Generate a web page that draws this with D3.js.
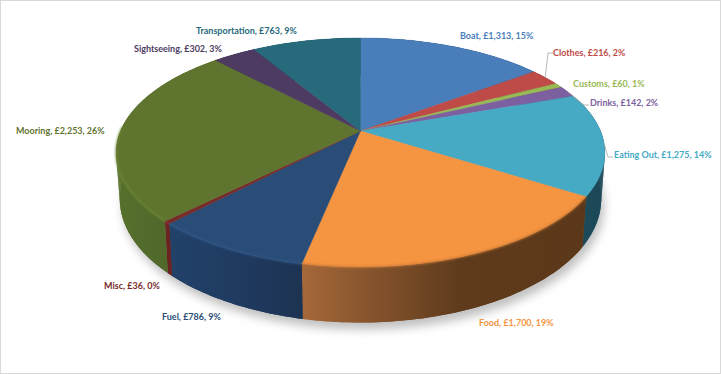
<!DOCTYPE html>
<html>
<head>
<meta charset="utf-8">
<script src="https://cdn.jsdelivr.net/npm/d3@7"></script>
<style>
html, body { margin: 0; padding: 0; background: #fff; }
svg { display: block; }
text { font-family: Lato, "Open Sans", sans-serif; font-weight: 700; font-size: 10px; }
</style>
</head>
<body>
<div id="chart"></div>
<script>
const categories = ['Boat', 'Clothes', 'Customs', 'Drinks', 'Eating Out', 'Food', 'Fuel', 'Misc', 'Mooring', 'Sightseeing', 'Transportation'];
const amounts = [1313, 216, 60, 142, 1275, 1700, 786, 36, 2253, 302, 763];
const percents = [15, 2, 1, 2, 14, 19, 9, 0, 26, 3, 9];
const topColors = ['#4a7ebb', '#be4b48', '#98b954', '#7d60a0', '#46aac5', '#f59441', '#2a4d77', '#772c2a', '#5f752f', '#4d3b62', '#276a7c'];
const wallLeft = ['#2f4f75', '#7a302e', '#5f7434', '#4d3a62', '#1c4a59', '#a5683a', '#22426a', '#7a2a28', '#56702c', '#3a2c4c', '#1c4a59'];
const wallMid = ['#2f4f75', '#7a302e', '#5f7434', '#4d3a62', '#1c4a59', '#5f3b1c', '#1f3a60', '#6a2321', '#50672a', '#3a2c4c', '#1c4a59'];
const wallRight = ['#2f4f75', '#7a302e', '#5f7434', '#4d3a62', '#1b4656', '#5c381a', '#1d3352', '#6a2321', '#4d6226', '#3a2c4c', '#1c4a59'];

// label anchor (left, baseline) for every slice, picked by eye
const labelX = [460, 553, 573, 590, 614, 479, 162, 104, 16, 134, 196];
const labelY = [39, 56, 87, 106, 158, 326, 320, 289, 134, 52, 34];
// slices with a leader line: index, end x, end y (label side)
const leaders = [[1, 553, 53], [3, 589, 105], [4, 613, 157]];

const width = 721, height = 374;
const skew = 0.188;
const depth = 45;
const bottomShrink = 0.985;

const xScale = d3.scaleLinear().domain([-1, 1]).range([360.5 - 240, 360.5 + 240]);
const yScale = d3.scaleLinear().domain([-1, 1]).range([131 + 110.5, 131 - 110.5]);

// perspective view of the pie disc, angle is clockwise from 12 o'clock
function project(angle, drop, shrink) {
    let w = 1 + skew * Math.cos(angle);
    let x = Math.sin(angle) * (shrink || 1) / w;
    let y = Math.cos(angle) / w;
    return [xScale(x), yScale(y) + (drop ? depth / w : 0)];
}

function sampleAngles(a0, a1) {
    let n = Math.max(2, Math.ceil((a1 - a0) / 0.02));
    return d3.range(n + 1).map(i => a0 + (a1 - a0) * i / n);
}

const line = d3.line();
const pie = d3.pie().sort(null).value(d => d);
const slices = pie(amounts);

const svg = d3.select('#chart').append('svg').attr('width', width).attr('height', height);
const defs = svg.append('defs');

defs.append('filter').attr('id', 'shadowBlur')
    .attr('x', '-10%').attr('y', '-10%').attr('width', '120%').attr('height', '120%')
    .append('feGaussianBlur').attr('stdDeviation', 5);
defs.append('filter').attr('id', 'edgeBlur')
    .attr('x', '-10%').attr('y', '-10%').attr('width', '120%').attr('height', '120%')
    .append('feGaussianBlur').attr('stdDeviation', 0.9);

svg.append('rect').attr('x', 0.5).attr('y', 0.5).attr('width', width - 1).attr('height', height - 1)
    .attr('fill', '#fff').attr('stroke', '#d9d9d9');

// soft shadow under the pie
let allAngles = sampleAngles(0, Math.PI * 2);
svg.append('path')
    .attr('d', line(allAngles.map(a => {
        let p = project(a, true, bottomShrink);
        return [p[0] + 3, p[1] + 7];
    })) + 'Z')
    .attr('fill', '#a6a6a6').attr('opacity', 0.7)
    .attr('filter', 'url(#shadowBlur)');

// walls first, the top face covers whatever is at the back
slices.forEach((s, i) => {
    let angles = sampleAngles(s.startAngle, s.endAngle);
    let upper = angles.map(a => project(a, false));
    let lower = angles.map(a => project(a, true, bottomShrink));
    let xs = upper.map(p => p[0]);
    let grad = defs.append('linearGradient').attr('id', 'wall' + i)
        .attr('gradientUnits', 'userSpaceOnUse')
        .attr('x1', d3.min(xs)).attr('x2', d3.max(xs)).attr('y1', 0).attr('y2', 0);
    grad.append('stop').attr('offset', 0).attr('stop-color', wallLeft[i]);
    grad.append('stop').attr('offset', 0.55).attr('stop-color', wallMid[i]);
    grad.append('stop').attr('offset', 1).attr('stop-color', wallRight[i]);
    svg.append('path')
        .attr('d', line(upper.concat(lower.slice().reverse())) + 'Z')
        .attr('fill', 'url(#wall' + i + ')');
    // strips as well, one outline alone leaves a notch where the wall turns at the sides
    d3.range(angles.length - 1).forEach(k => {
        svg.append('path')
            .attr('d', line([upper[k], upper[k + 1], lower[k + 1], lower[k]]) + 'Z')
            .attr('fill', 'url(#wall' + i + ')');
    });
});

// top face
const apex = [xScale(0), yScale(0)];
slices.forEach((s, i) => {
    let pts = [apex].concat(sampleAngles(s.startAngle, s.endAngle).map(a => project(a, false)));
    svg.append('path')
        .attr('d', line(pts) + 'Z')
        .attr('fill', topColors[i])
        .attr('stroke', topColors[i]).attr('stroke-width', 0.4);
});

// soft bevel along the front rim, food goes darker and the rest lighter
slices.forEach((s, i) => {
    if (i < 5) return;
    let a0 = s.startAngle, a1 = Math.min(s.endAngle, 4.75);
    if (a1 <= a0) return;
    svg.append('path')
        .attr('d', line(sampleAngles(a0, a1).map(a => project(a, false))))
        .attr('fill', 'none')
        .attr('stroke', d3.rgb(topColors[i]).brighter(i == 5 ? -0.6 : 0.4))
        .attr('stroke-width', 1.4)
        .attr('filter', 'url(#edgeBlur)');
});

// leader lines
leaders.forEach(d => {
    let s = slices[d[0]];
    let p = project((s.startAngle + s.endAngle) / 2, false);
    svg.append('path')
        .attr('d', line([p, [d[1] - 5, d[2]], [d[1], d[2]]]))
        .attr('fill', 'none').attr('stroke', '#a6a6a6').attr('stroke-width', 0.8);
});

// labels, Lato squeezed a little to get the width of the original font
const money = d3.format(',');
categories.forEach((c, i) => {
    svg.append('text')
        .attr('transform', 'translate(' + labelX[i] + ',' + labelY[i] + ') scale(0.9,1)')
        .attr('fill', topColors[i])
        .text(c + ', £' + money(amounts[i]) + ', ' + percents[i] + '%');
});
</script>
</body>
</html>
